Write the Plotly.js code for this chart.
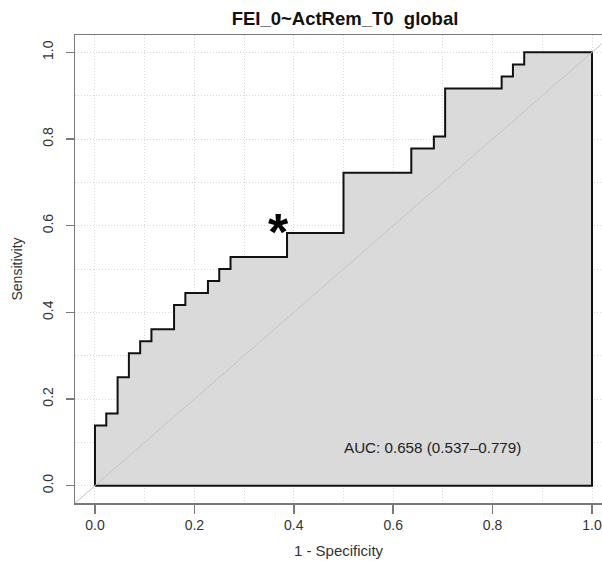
<!DOCTYPE html>
<html><head><meta charset="utf-8">
<script src="https://cdn.plot.ly/plotly-3.0.1.min.js"></script>
<style>html,body{margin:0;padding:0;background:#fff}#chart{width:602px;height:561px}</style>
</head><body><div id="chart"></div>
<script>
// ROC curve points (1 - specificity, sensitivity)
const fpr = [0, 0.0227, 0.0455, 0.0682, 0.0909, 0.1136, 0.1591, 0.1818, 0.2273, 0.2500, 0.2727, 0.3864, 0.5000, 0.6364, 0.6818, 0.7045, 0.8182, 0.8409, 0.8636, 1.0];
const sensitivity = [0, 0.1389, 0.1667, 0.2500, 0.3056, 0.3333, 0.3611, 0.4167, 0.4444, 0.4722, 0.5000, 0.5278, 0.5833, 0.7222, 0.7778, 0.8056, 0.9167, 0.9444, 0.9722, 1.0];
const bestPoint = {x: 0.3864, y: 0.5833};
const aucLabel = "AUC: 0.658 (0.537\u20130.779)";
const titleText = "FEI_0~ActRem_T0\u00a0 global";
const xTitle = "1 - Specificity";
const yTitle = "Sensitivity";
const tickVals = [0, 0.2, 0.4, 0.6, 0.8, 1.0];
const tickText = ["0.0", "0.2", "0.4", "0.6", "0.8", "1.0"];

const FONT = "Liberation Sans, Arial, Helvetica, sans-serif";
const xRange = [-0.0402, 1.0201];
const yRange = [-0.04, 1.04];

// closed polygon: curve, then down the right edge and back along the bottom
const polyX = fpr.concat([fpr[fpr.length - 1], fpr[0]]);
const polyY = sensitivity.concat([sensitivity[0], sensitivity[0]]);

const traces = [
  {
    x: polyX, y: polyY, type: 'scatter', mode: 'lines',
    line: {shape: 'vh', color: '#111111', width: 2},
    fill: 'toself', fillcolor: '#dadada', hoverinfo: 'skip', showlegend: false
  },
  {
    x: [xRange[0] - 0.1, xRange[1] + 0.1], y: [xRange[0] - 0.1, xRange[1] + 0.1],
    type: 'scatter', mode: 'lines',
    line: {color: '#c4c4c4', width: 1}, hoverinfo: 'skip', showlegend: false
  }
];

const gridStyle = {gridcolor: '#d9d9d9', griddash: '1px,2px', gridwidth: 1};

const axisCommon = Object.assign({
  showline: true, linecolor: '#7a7a7a', linewidth: 1.5,
  ticks: 'outside', tickcolor: '#7a7a7a', tickwidth: 1.5,
  tickvals: tickVals, ticktext: tickText,
  tickfont: {family: FONT, size: 14, color: '#333333'},
  showgrid: true,
  minor: Object.assign({dtick: 0.1, tick0: 0, showgrid: true, ticks: ''}, gridStyle),
  zeroline: false, fixedrange: true
}, gridStyle);

const layout = {
  width: 602, height: 561,
  margin: {l: 75, r: 0, t: 35, b: 58},
  paper_bgcolor: '#ffffff', plot_bgcolor: '#ffffff',
  title: {text: titleText, font: {family: FONT, size: 18.5, color: '#111111', weight: 'bold'},
          x: 345 / 602, xref: 'container', xanchor: 'center', y: 1 - 19 / 561, yref: 'container', yanchor: 'middle'},
  xaxis: Object.assign({}, axisCommon, {
    range: xRange, mirror: true, ticklen: 9,
    title: {text: xTitle, font: {family: FONT, size: 15, color: '#333333'}, standoff: 13}
  }),
  yaxis: Object.assign({}, axisCommon, {
    range: yRange, mirror: false, ticklen: 8, tickangle: -90, ticklabelstandoff: 7,
    title: {text: yTitle, font: {family: FONT, size: 14, color: '#333333'}, standoff: 14}
  }),
  annotations: [
    {x: 0.68, y: 0.088, xref: 'x', yref: 'y', text: aucLabel, showarrow: false,
     font: {family: FONT, size: 15.2, color: '#222222'}, xanchor: 'center', yanchor: 'middle'},
    {x: bestPoint.x, y: bestPoint.y, xref: 'x', yref: 'y', text: '*', showarrow: false,
     font: {family: FONT, size: 52, color: '#000000', weight: 'bold'}, xanchor: 'center', yanchor: 'middle',
     xshift: -9, yshift: 1}
  ]
};

Plotly.newPlot('chart', traces, layout, {displayModeBar: false, staticPlot: true});
</script>
</body></html>
